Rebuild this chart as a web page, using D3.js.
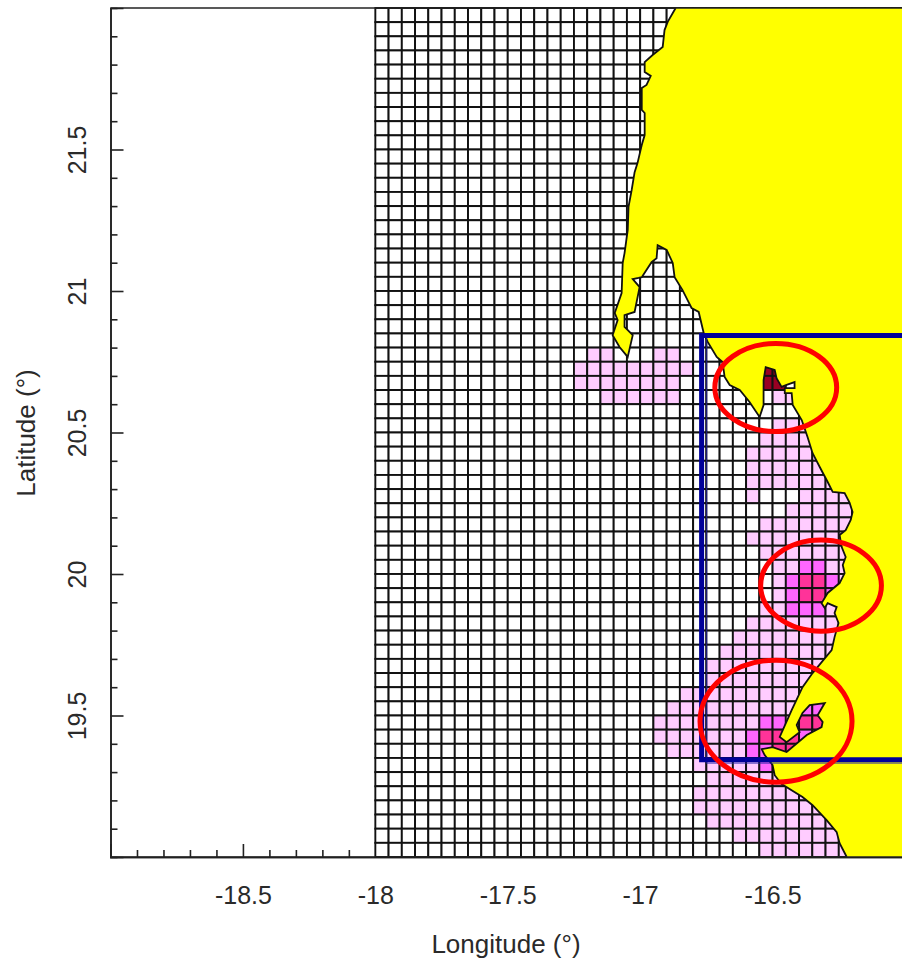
<!doctype html>
<html lang="en">
<head>
<meta charset="UTF-8">
<title>Longitude / Latitude grid</title>
<script src="https://d3js.org/d3.v7.min.js"></script>
<style>
    body { margin: 0; background: #fff; }
    text { font-family: "Liberation Sans", Arial, sans-serif; fill: #2a2a2a; }
</style>
</head>
<body>
<div id="chart"></div>
<script>
// grid: 0.05 degree cells from -18 eastwards, from 22 southwards
var cellStep = 0.05;
var gridCols = 40;
var gridRows = 60;

// level runs: [row, first col, last col, level]
var levelRuns = [
    [24,16,17,1],[24,21,22,1],
    [25,15,23,1],[25,29,30,4],
    [26,15,22,1],[26,29,30,4],
    [27,17,22,1],[27,30,31,1],
    [29,30,32,1],
    [30,29,33,1],
    [31,28,39,1],[32,28,39,1],[33,28,39,1],
    [34,28,28,1],[34,32,39,1],
    [35,31,39,1],
    [36,29,39,1],
    [37,28,39,1],
    [38,29,39,1],
    [39,30,31,1],[39,32,33,2],[39,34,39,1],
    [40,30,30,1],[40,31,31,2],[40,32,33,3],[40,34,34,2],[40,35,39,1],
    [41,30,30,1],[41,31,31,2],[41,32,33,3],[41,34,34,2],[41,35,39,1],
    [42,29,30,1],[42,31,33,2],[42,34,39,1],
    [43,28,39,1],
    [44,27,39,1],
    [45,26,39,1],
    [46,25,39,1],[47,25,39,1],
    [48,23,39,1],
    [49,22,31,1],[49,32,34,2],[49,35,39,1],
    [50,21,28,1],[50,29,30,2],[50,31,31,1],[50,32,33,3],[50,34,39,1],
    [51,21,27,1],[51,28,28,2],[51,29,31,3],[51,32,32,2],[51,33,39,1],
    [52,22,27,1],[52,28,29,2],[52,30,31,3],[52,32,39,1],
    [53,24,28,1],[53,29,29,2],[53,30,39,1],
    [54,25,39,1],
    [55,24,39,1],[56,24,39,1],
    [57,25,39,1],
    [58,27,39,1],
    [59,29,39,1]
];
var levelColors = ["#ffffff", "#ffccff", "#ff66ff", "#ff3399", "#990022"];

// coast
var coastLon = [-16.866,-16.896,-16.908,-16.915,-16.953,-16.983,-16.983,-16.960,-16.976,-16.994,-16.994,-16.983,-16.983,-16.994,-17.010,-17.021,-17.032,-17.044,-17.047,-17.059,-17.066,-17.070,-17.096,-17.085,-17.104,-17.078,-17.047,-17.028,-17.059,-17.059,-17.021,-17.002,-17.028,-17.006,-16.994,-16.957,-16.938,-16.934,-16.900,-16.877,-16.870,-16.840,-16.821,-16.806,-16.779,-16.760,-16.745,-16.711,-16.689,-16.681,-16.662,-16.624,-16.587,-16.549,-16.534,-16.534,-16.526,-16.492,-16.485,-16.466,-16.447,-16.417,-16.417,-16.454,-16.454,-16.428,-16.424,-16.390,-16.368,-16.349,-16.322,-16.292,-16.273,-16.228,-16.209,-16.198,-16.205,-16.224,-16.247,-16.239,-16.224,-16.235,-16.228,-16.247,-16.292,-16.315,-16.303,-16.292,-16.258,-16.266,-16.251,-16.266,-16.277,-16.349,-16.387,-16.428,-16.473,-16.447,-16.398,-16.409,-16.387,-16.360,-16.303,-16.330,-16.311,-16.315,-16.371,-16.447,-16.500,-16.541,-16.530,-16.500,-16.492,-16.466,-16.387,-16.349,-16.296,-16.258,-16.247,-16.220];
var coastLat = [22.000,21.951,21.922,21.862,21.834,21.809,21.774,21.760,21.728,21.717,21.640,21.629,21.551,21.516,21.452,21.420,21.357,21.297,21.215,21.134,21.099,20.993,20.922,20.897,20.844,20.802,20.767,20.844,20.873,20.915,20.926,21.014,21.042,21.046,21.049,21.102,21.116,21.162,21.145,21.099,21.049,21.003,20.968,20.940,20.926,20.851,20.820,20.767,20.749,20.696,20.668,20.650,20.608,20.555,20.597,20.685,20.731,20.721,20.692,20.661,20.668,20.678,20.657,20.657,20.639,20.639,20.597,20.544,20.484,20.427,20.378,20.325,20.290,20.286,20.251,20.219,20.191,20.155,20.138,20.095,20.060,20.032,20.003,19.968,19.933,19.897,19.880,19.897,19.883,19.862,19.827,19.777,19.731,19.650,19.600,19.519,19.424,19.406,19.441,19.466,19.509,19.537,19.544,19.501,19.477,19.459,19.431,19.371,19.388,19.381,19.360,19.325,19.289,19.258,19.212,19.183,19.130,19.088,19.049,19.000];

// red ellipses: centre and radii in degrees
var ringLon = [-16.488, -16.317, -16.487];
var ringLat = [20.659, 19.959, 19.480];
var ringRLon = [0.230, 0.228, 0.287];
var ringRLat = [0.1555, 0.161, 0.2156];

// blue box, open to the east
var boxWest = -16.768, boxNorth = 20.843, boxSouth = 19.344;
var box2West = -16.749, box2South = 19.332;

var xMajor = [-18.5, -18, -17.5, -17, -16.5];
var yMajor = [19.5, 20, 20.5, 21, 21.5];
var xMinor = [-18.9,-18.8,-18.7,-18.6,-18.4,-18.3,-18.2,-18.1,-17.9,-17.8,-17.7,-17.6,-17.4,-17.3,-17.2,-17.1,-16.9,-16.8,-16.7,-16.6,-16.4,-16.3,-16.2,-16.1];
var yMinor = [19.1,19.2,19.3,19.4,19.6,19.7,19.8,19.9,20.1,20.2,20.3,20.4,20.6,20.7,20.8,20.9,21.1,21.2,21.3,21.4,21.6,21.7,21.8,21.9];

var width = 902, height = 962;
var x = d3.scaleLinear().domain([-19, -16]).range([110.5, 905]);
var y = d3.scaleLinear().domain([19, 22]).range([857, 8]);

var svg = d3.select("#chart").append("svg")
    .attr("width", width)
    .attr("height", height)
    .style("display", "block");

// axes go first, the grid and the land paint over their ticks
var xAxis = svg.append("g")
    .attr("transform", "translate(0," + y(19) + ")")
    .call(d3.axisBottom(x).tickValues(xMajor).tickSize(-13).tickPadding(29).tickFormat(String));
xAxis.selectAll("text").style("font-size", "25px");

svg.append("g")
    .attr("transform", "translate(0," + y(19) + ")")
    .call(d3.axisBottom(x).tickValues(xMinor).tickSize(-7).tickFormat(""));

var yAxis = svg.append("g")
    .attr("transform", "translate(" + x(-19) + ",0)")
    .call(d3.axisLeft(y).tickValues(yMajor).tickSize(-13).tickFormat(String));
yAxis.selectAll("text")
    .attr("x", 0)
    .attr("y", -25)
    .attr("dy", 0)
    .attr("transform", "rotate(-90)")
    .attr("text-anchor", "middle")
    .style("font-size", "25px");

svg.append("g")
    .attr("transform", "translate(" + x(-19) + ",0)")
    .call(d3.axisLeft(y).tickValues(yMinor).tickSize(-7).tickFormat(""));

svg.selectAll(".domain").attr("stroke", "#222").attr("stroke-width", 1.6);
svg.selectAll(".tick line").attr("stroke", "#222").attr("stroke-width", 1.6);

// level of each cell
var cells = [];
d3.range(gridRows).forEach(function (r) {
    d3.range(gridCols).forEach(function (c) {
        cells.push({row: r, col: c, level: 0});
    });
});
levelRuns.forEach(function (run) {
    d3.range(run[1], run[2] + 1).forEach(function (c) {
        cells[run[0] * gridCols + c].level = run[3];
    });
});

svg.append("g").selectAll("rect")
    .data(cells)
    .enter()
    .append("rect")
        .attr("x", function (d) {return x(-18 + d.col * cellStep)})
        .attr("y", function (d) {return y(22 - d.row * cellStep)})
        .attr("width", x(cellStep) - x(0))
        .attr("height", y(0) - y(cellStep))
        .attr("fill", function (d) {return levelColors[d.level]})
        .attr("stroke", "#111")
        .attr("stroke-width", 1.9);

// land
var coast = d3.zip(coastLon, coastLat);
var line = d3.line().x(function (d) {return x(d[0])}).y(function (d) {return y(d[1])});

svg.append("path")
    .attr("d", line(coast.concat([[-16, 19], [-16, 22]])) + "Z")
    .attr("fill", "#ffff00");

svg.append("path")
    .attr("d", line(coast))
    .attr("fill", "none")
    .attr("stroke", "#111")
    .attr("stroke-width", 1.8);

// blue box
svg.append("path")
    .attr("d", line([[box2West, boxNorth], [box2West, box2South], [-16, box2South]]))
    .attr("fill", "none")
    .attr("stroke", "#2222aa")
    .attr("stroke-opacity", 0.7)
    .attr("stroke-width", 1.2);

svg.append("path")
    .attr("d", line([[-16, boxNorth], [boxWest, boxNorth], [boxWest, boxSouth], [-16, boxSouth]]))
    .attr("fill", "none")
    .attr("stroke", "#000099")
    .attr("stroke-width", 5);

// red rings
svg.append("g").selectAll("ellipse")
    .data(d3.range(ringLon.length))
    .enter()
    .append("ellipse")
        .attr("cx", function (i) {return x(ringLon[i])})
        .attr("cy", function (i) {return y(ringLat[i])})
        .attr("rx", function (i) {return x(ringRLon[i]) - x(0)})
        .attr("ry", function (i) {return y(0) - y(ringRLat[i])})
        .attr("fill", "none")
        .attr("stroke", "#ff0000")
        .attr("stroke-width", 5);

// top and bottom edges stay on top of the land
svg.append("path")
    .attr("d", line([[-19, 22], [-16, 22]]))
    .attr("stroke", "#222")
    .attr("stroke-width", 1.6);

svg.append("path")
    .attr("d", line([[-19, 19], [-16, 19]]))
    .attr("stroke", "#222")
    .attr("stroke-width", 1.6);

svg.append("text")
    .attr("x", 506)
    .attr("y", 953)
    .attr("text-anchor", "middle")
    .style("font-size", "26px")
    .text("Longitude (°)");

svg.append("text")
    .attr("transform", "translate(35,433) rotate(-90)")
    .attr("text-anchor", "middle")
    .style("font-size", "26px")
    .text("Latitude (°)");
</script>
</body>
</html>
